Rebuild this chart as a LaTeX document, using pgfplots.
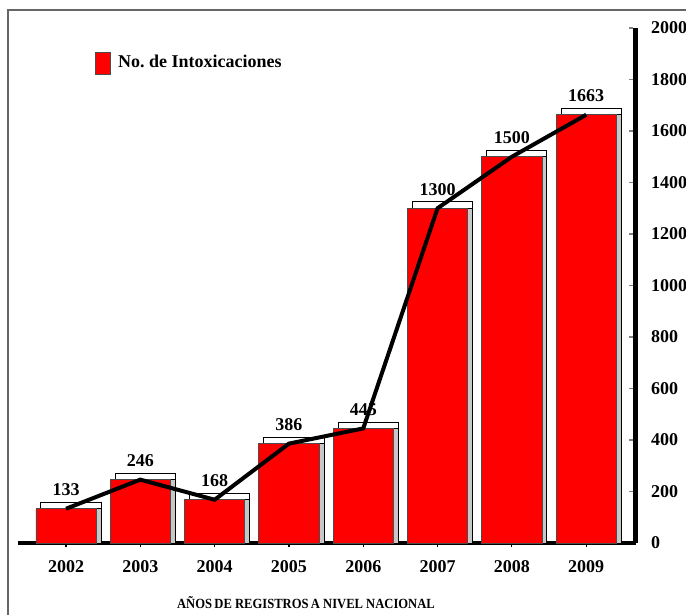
\documentclass[border=0pt]{standalone}
\usepackage{pgfplots}
\pgfplotsset{compat=1.18}
\usepackage{fontspec}
\setmainfont{Liberation Serif}
\newfontfamily\condfont[FakeStretch=0.9]{Liberation Serif}
\begin{document}
\begin{tikzpicture}[x=1pt,y=1pt]
\path[use as bounding box] (0,0) rectangle (343,-307.5);
\draw[black!60, line width=0.6pt] (4,-307.5) -- (4,-5) -- (343,-5);
\begin{axis}[
  at={(9pt,-271.5pt)}, anchor=south west,
  scale only axis, width=309pt, height=257.5pt,
  xmin=-0.646, xmax=7.67, ymin=0, ymax=2000,
  axis x line=bottom, axis y line=right,
  x axis line style={line width=2pt,-},
  y axis line style={line width=2.5pt,-},
  /pgf/number format/assume math mode=true,
  /pgf/number format/1000 sep={},
  ytick={0,200,...,2000},
  xtick={0,...,7},
  xticklabels={2002,2003,2004,2005,2006,2007,2008,2009},
  tick label style={font=\bfseries\fontsize{9}{10}\selectfont},
  yticklabel style={xshift=2pt},
  xticklabel style={yshift=-3pt},
  ytick style={black!50, line width=0.8pt, xshift=-3.5pt},
  xtick style={black, line width=0.6pt},
  major tick length=2pt,
  tick align=outside,
  xlabel={AÑOS\,DE REGISTROS\,A NIVEL NACIONAL},
  xlabel style={at={(axis description cs:0.466,-0.1165)}, anchor=center,
    font=\condfont\bfseries\fontsize{7}{8}\selectfont},
  legend style={at={(rel axis cs:0.1245,0.932)}, anchor=west, draw=none, fill=none,
    font=\bfseries\fontsize{9}{10}\selectfont, inner sep=0pt},
  legend cell align=left,
  legend image code/.code={\draw[fill=red,draw=black!70] (0pt,-5.5pt) rectangle (7.5pt,5.5pt);
     \path (9pt,0pt);},
  clip=false,
]
\addplot[ybar, bar width=0.81, bar shift=0pt, fill=white, draw=black, line width=0.5pt,
  xshift=2.5pt, yshift=3.2pt, forget plot]
  coordinates {(0,133) (1,246) (2,168) (3,386) (4,445) (5,1300) (6,1500) (7,1663)};
\addplot[ybar, bar width=0.81, bar shift=0pt, fill=black!22, draw=black, line width=0.5pt,
  xshift=2.5pt, forget plot]
  coordinates {(0,133) (1,246) (2,168) (3,386) (4,445) (5,1300) (6,1500) (7,1663)};
\addplot[ybar, bar width=0.81, bar shift=0pt, fill=red, draw=black!70, line width=0.4pt]
  coordinates {(0,133) (1,246) (2,168) (3,386) (4,445) (5,1300) (6,1500) (7,1663)};
\addlegendentry{No.\ de Intoxicaciones}
\addplot[black, line width=2pt, mark=none, forget plot,
  nodes near coords, point meta=y,
  every node near coord/.append style={anchor=center, yshift=9.5pt,
    font=\bfseries\fontsize{9}{10}\selectfont}]
  coordinates {(0,133) (1,246) (2,168) (3,386) (4,445) (5,1300) (6,1500) (7,1663)};
\end{axis}
\end{tikzpicture}
\end{document}
